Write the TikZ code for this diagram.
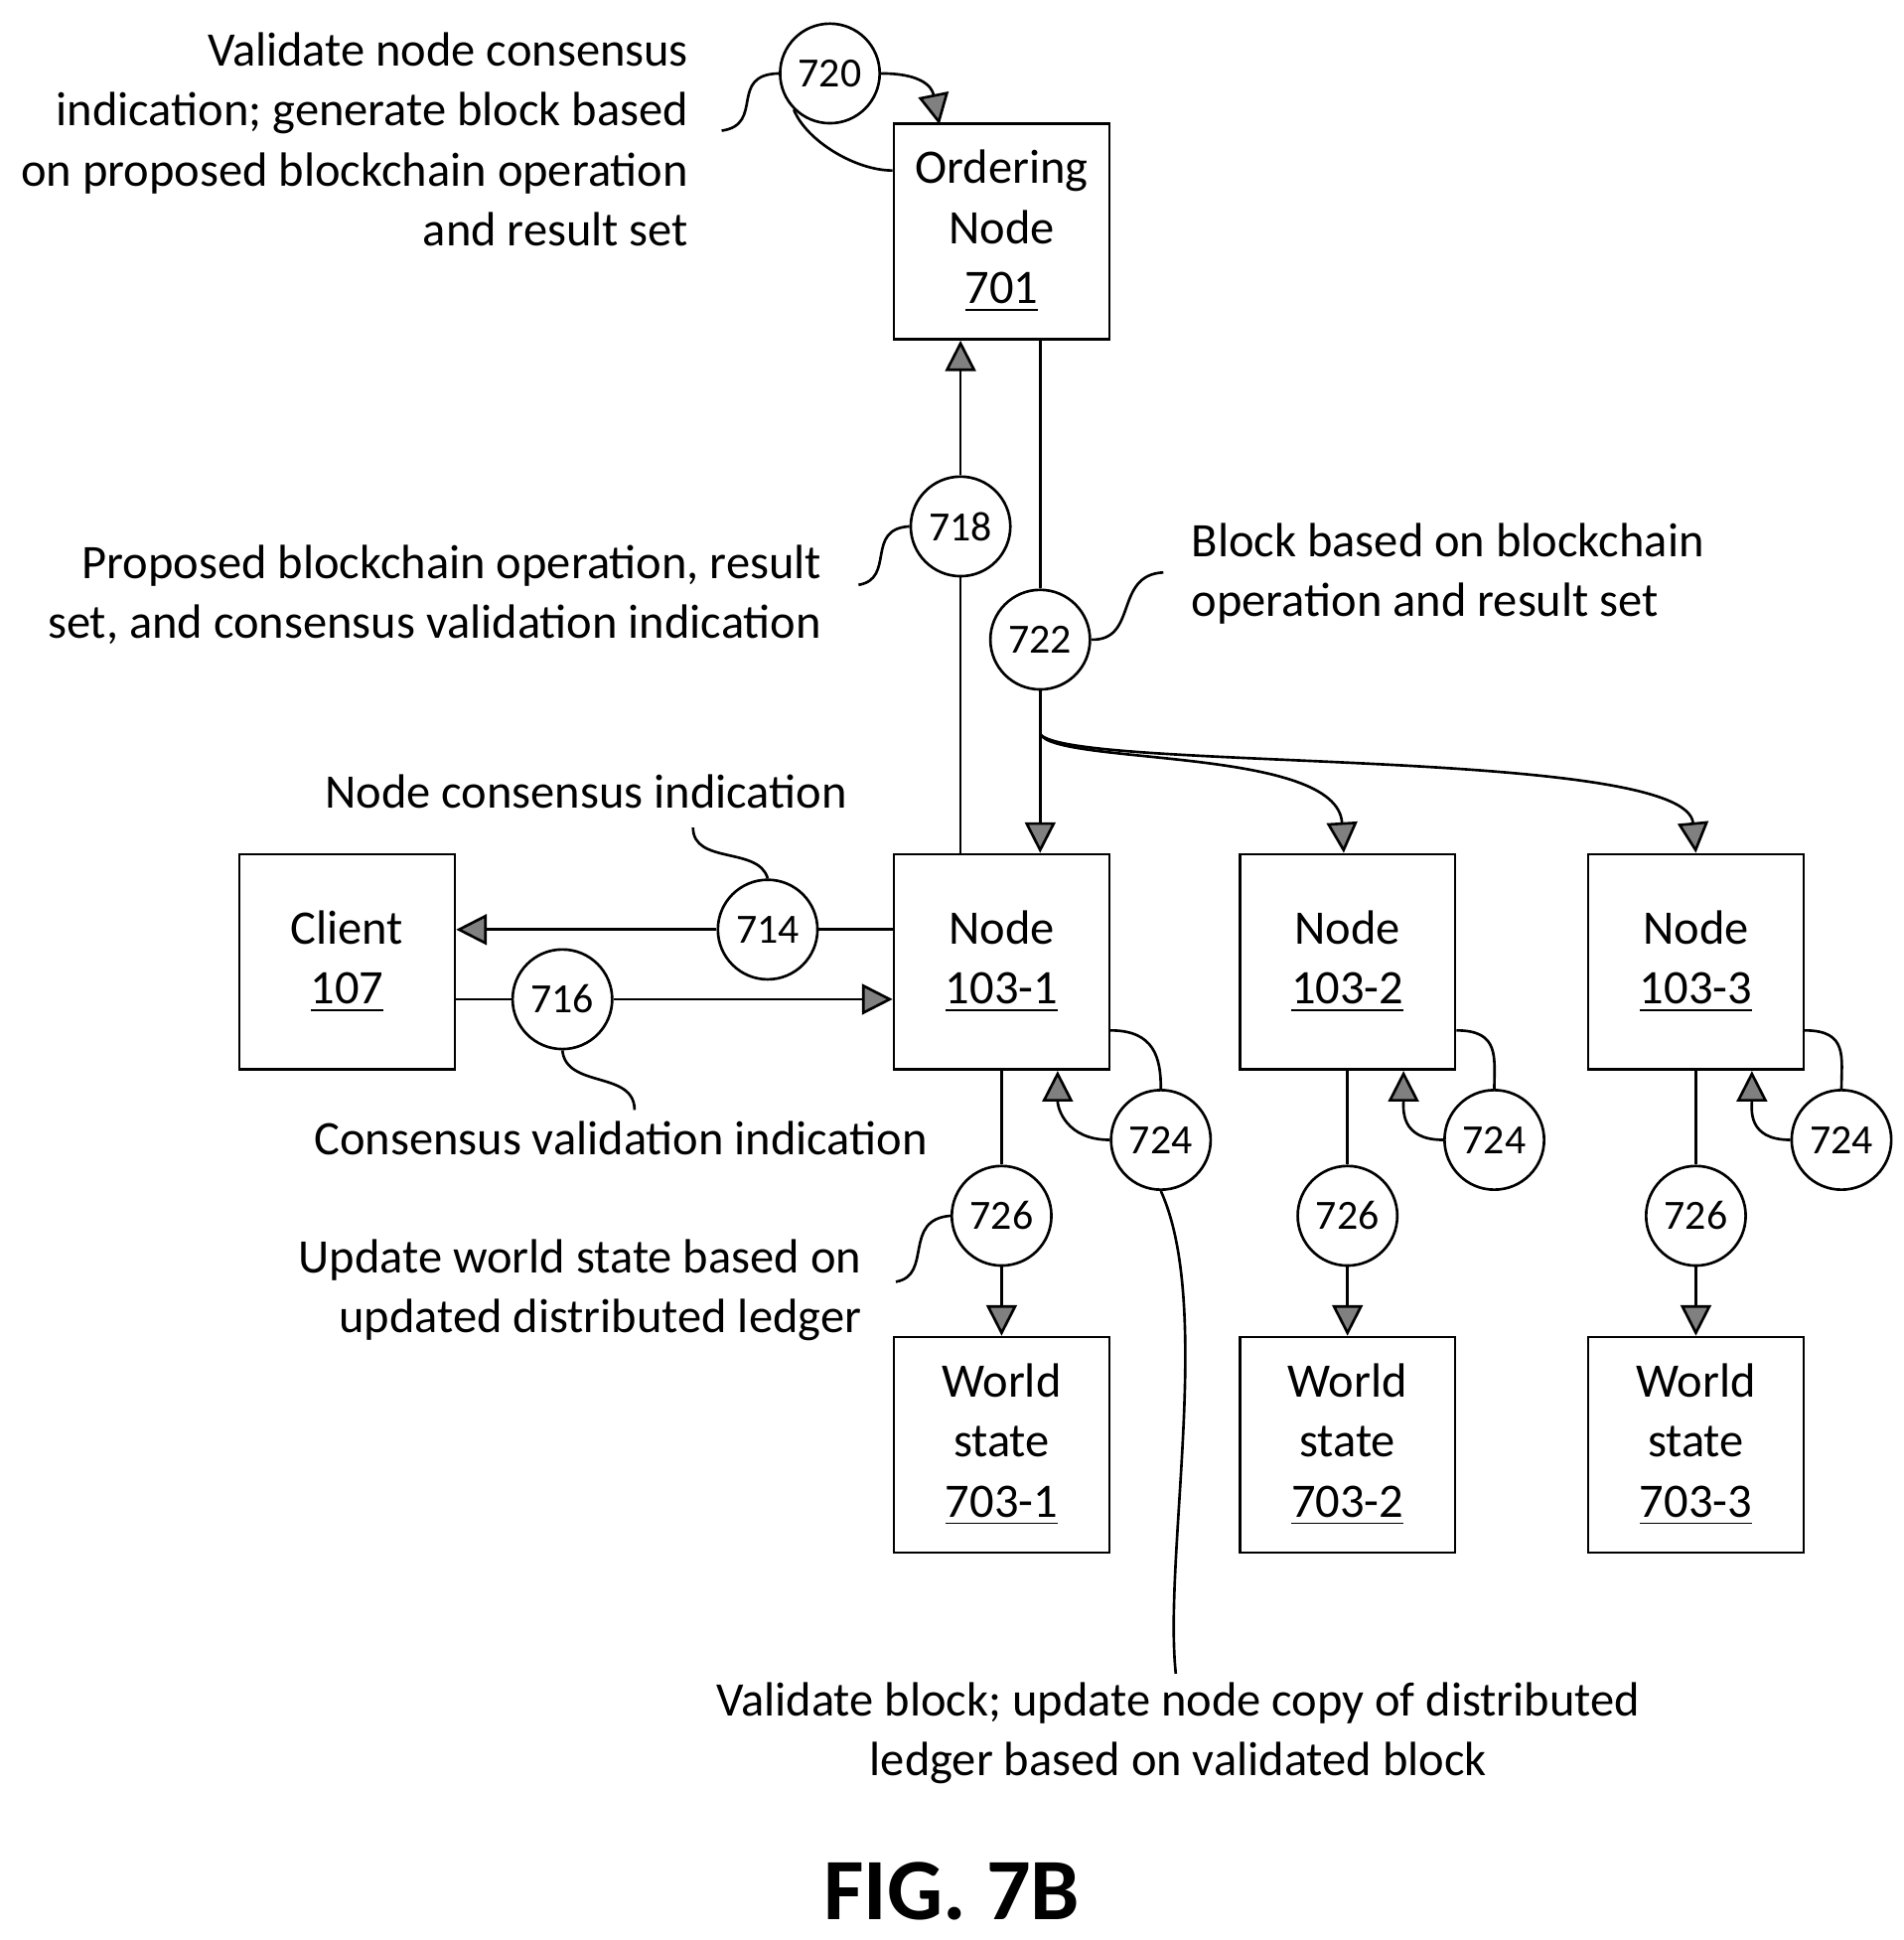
\documentclass[tikz,border=0pt]{standalone}
\usepackage{fontspec}
\setmainfont{Carlito}
\usetikzlibrary{arrows.meta}
\begin{document}
\begin{tikzpicture}[x=0.01cm,y=-0.01cm,line width=0.6pt,
    box/.style={draw,minimum width=1.73cm,minimum height=1.73cm,align=center,
      font=\fontsize{11}{13.7}\selectfont},
    num/.style={draw,circle,minimum size=0.8cm,inner sep=0pt,font=\fontsize{9.5}{12}\selectfont},
    lbl/.style={font=\fontsize{11}{13.7}\selectfont},
    arr/.style={-{Triangle[length=7pt,width=7pt,fill=gray]}}]
    \useasboundingbox (0,0) rectangle (1530,1559);
    % boxes
    \node[box] (ord) at (805,186) {Ordering\\Node\\\underline{701}};
    \node[box] (client) at (279,773) {Client\\\underline{107}};
    \node[box] (n1) at (805,773) {Node\\\underline{103-1}};
    \node[box] (n2) at (1083,773) {Node\\\underline{103-2}};
    \node[box] (n3) at (1363,773) {Node\\\underline{103-3}};
    \node[box] (w1) at (805,1161) {World\\state\\\underline{703-1}};
    \node[box] (w2) at (1083,1161) {World\\state\\\underline{703-2}};
    \node[box] (w3) at (1363,1161) {World\\state\\\underline{703-3}};
    % step circles
    \node[num] (c720) at (667,59) {720};
    \node[num] (c718) at (772,423) {718};
    \node[num] (c722) at (836,514) {722};
    \node[num] (c714) at (617,747) {714};
    \node[num] (c716) at (452,803) {716};
    \node[num] (c724a) at (933,916) {724};
    \node[num] (c724b) at (1201,916) {724};
    \node[num] (c724c) at (1480,916) {724};
    \node[num] (c726a) at (805,977) {726};
    \node[num] (c726b) at (1083,977) {726};
    \node[num] (c726c) at (1363,977) {726};
    \coordinate (split) at (836,590);
    % connectors
    \draw (n1.north -| c718) -- (c718);
    \draw[arr] (c718) -- (c718 |- ord.south);
    \draw (ord.south -| c722) -- (c722);
    \draw (c722) -- (split);
    \draw[arr] (split) -- (n1.north -| c722);
    \draw[arr] (split) .. controls (850,615) and (1075,600) .. (n2.north -| 1080,0);
    \draw[arr] (split) .. controls (860,620) and (1355,600) .. (n3.north);
    \draw (n1.west |- c714) -- (c714);
    \draw[arr] (c714) -- (client.east |- c714);
    \draw (client.east |- c716) -- (c716);
    \draw[arr] (c716) -- (n1.west |- c716);
    \draw (ord.west |- 0,137) .. controls +(-30,0) and +(10,25) .. (c720.south west);
    \draw[arr] (c720.east) .. controls +(40,0) and +(-5,-25) .. (755,100);
    \foreach \n/\c in {n1/c724a,n2/c724b,n3/c724c}{
      \draw ([yshift=-0.55cm]\n.east) .. controls +(35,0) and +(0,-25) .. (\c.north);
      \draw[arr] (\c.west) .. controls +(-35,0) and +(0,30) .. ([xshift=0.45cm]\n.south);
    }
    \foreach \n/\c/\w in {n1/c726a/w1,n2/c726b/w2,n3/c726c/w3}{
      \draw (\n.south) -- (\c);
      \draw[arr] (\c) -- (\w.north);
    }
    % labels
    \node[lbl,align=right,anchor=east] (t720) at (566,112) {Validate node consensus\\indication; generate block based\\on proposed blockchain operation\\and result set};
    \draw (580,105) .. controls (615,100) and (585,60) .. (c720.west);
    \node[lbl,align=right,anchor=east] (t718) at (673,478) {Proposed blockchain operation, result\\set, and consensus validation indication};
    \draw (690,470) .. controls (720,465) and (695,425) .. (c718.west);
    \node[lbl,align=left,anchor=west] (t722) at (945,461) {Block based on blockchain\\operation and result set};
    \draw (c722.east) .. controls (915,515) and (895,462) .. (935,460);
    \node[lbl] (t714) at (471,636) {Node consensus indication};
    \draw (557,665) .. controls (557,695) and (610,680) .. (c714.north);
    \node[lbl] (t716) at (499,915) {Consensus validation indication};
    \draw (c716.south) .. controls (455,875) and (510,860) .. (510,892);
    \node[lbl,align=right,anchor=east] (t726) at (705,1037) {Update world state based on\\updated distributed ledger};
    \draw (720,1030) .. controls (750,1025) and (725,980) .. (c726a.west);
    \node[lbl,align=center] (t724) at (947,1393) {Validate block; update node copy of distributed\\ledger based on validated block};
    \draw (c724a.south) .. controls (975,1050) and (935,1250) .. (945,1345);
    \node[font=\bfseries\fontsize{20}{24}\selectfont] (fig) at (765,1520) {FIG. 7B};
\end{tikzpicture}
\end{document}
